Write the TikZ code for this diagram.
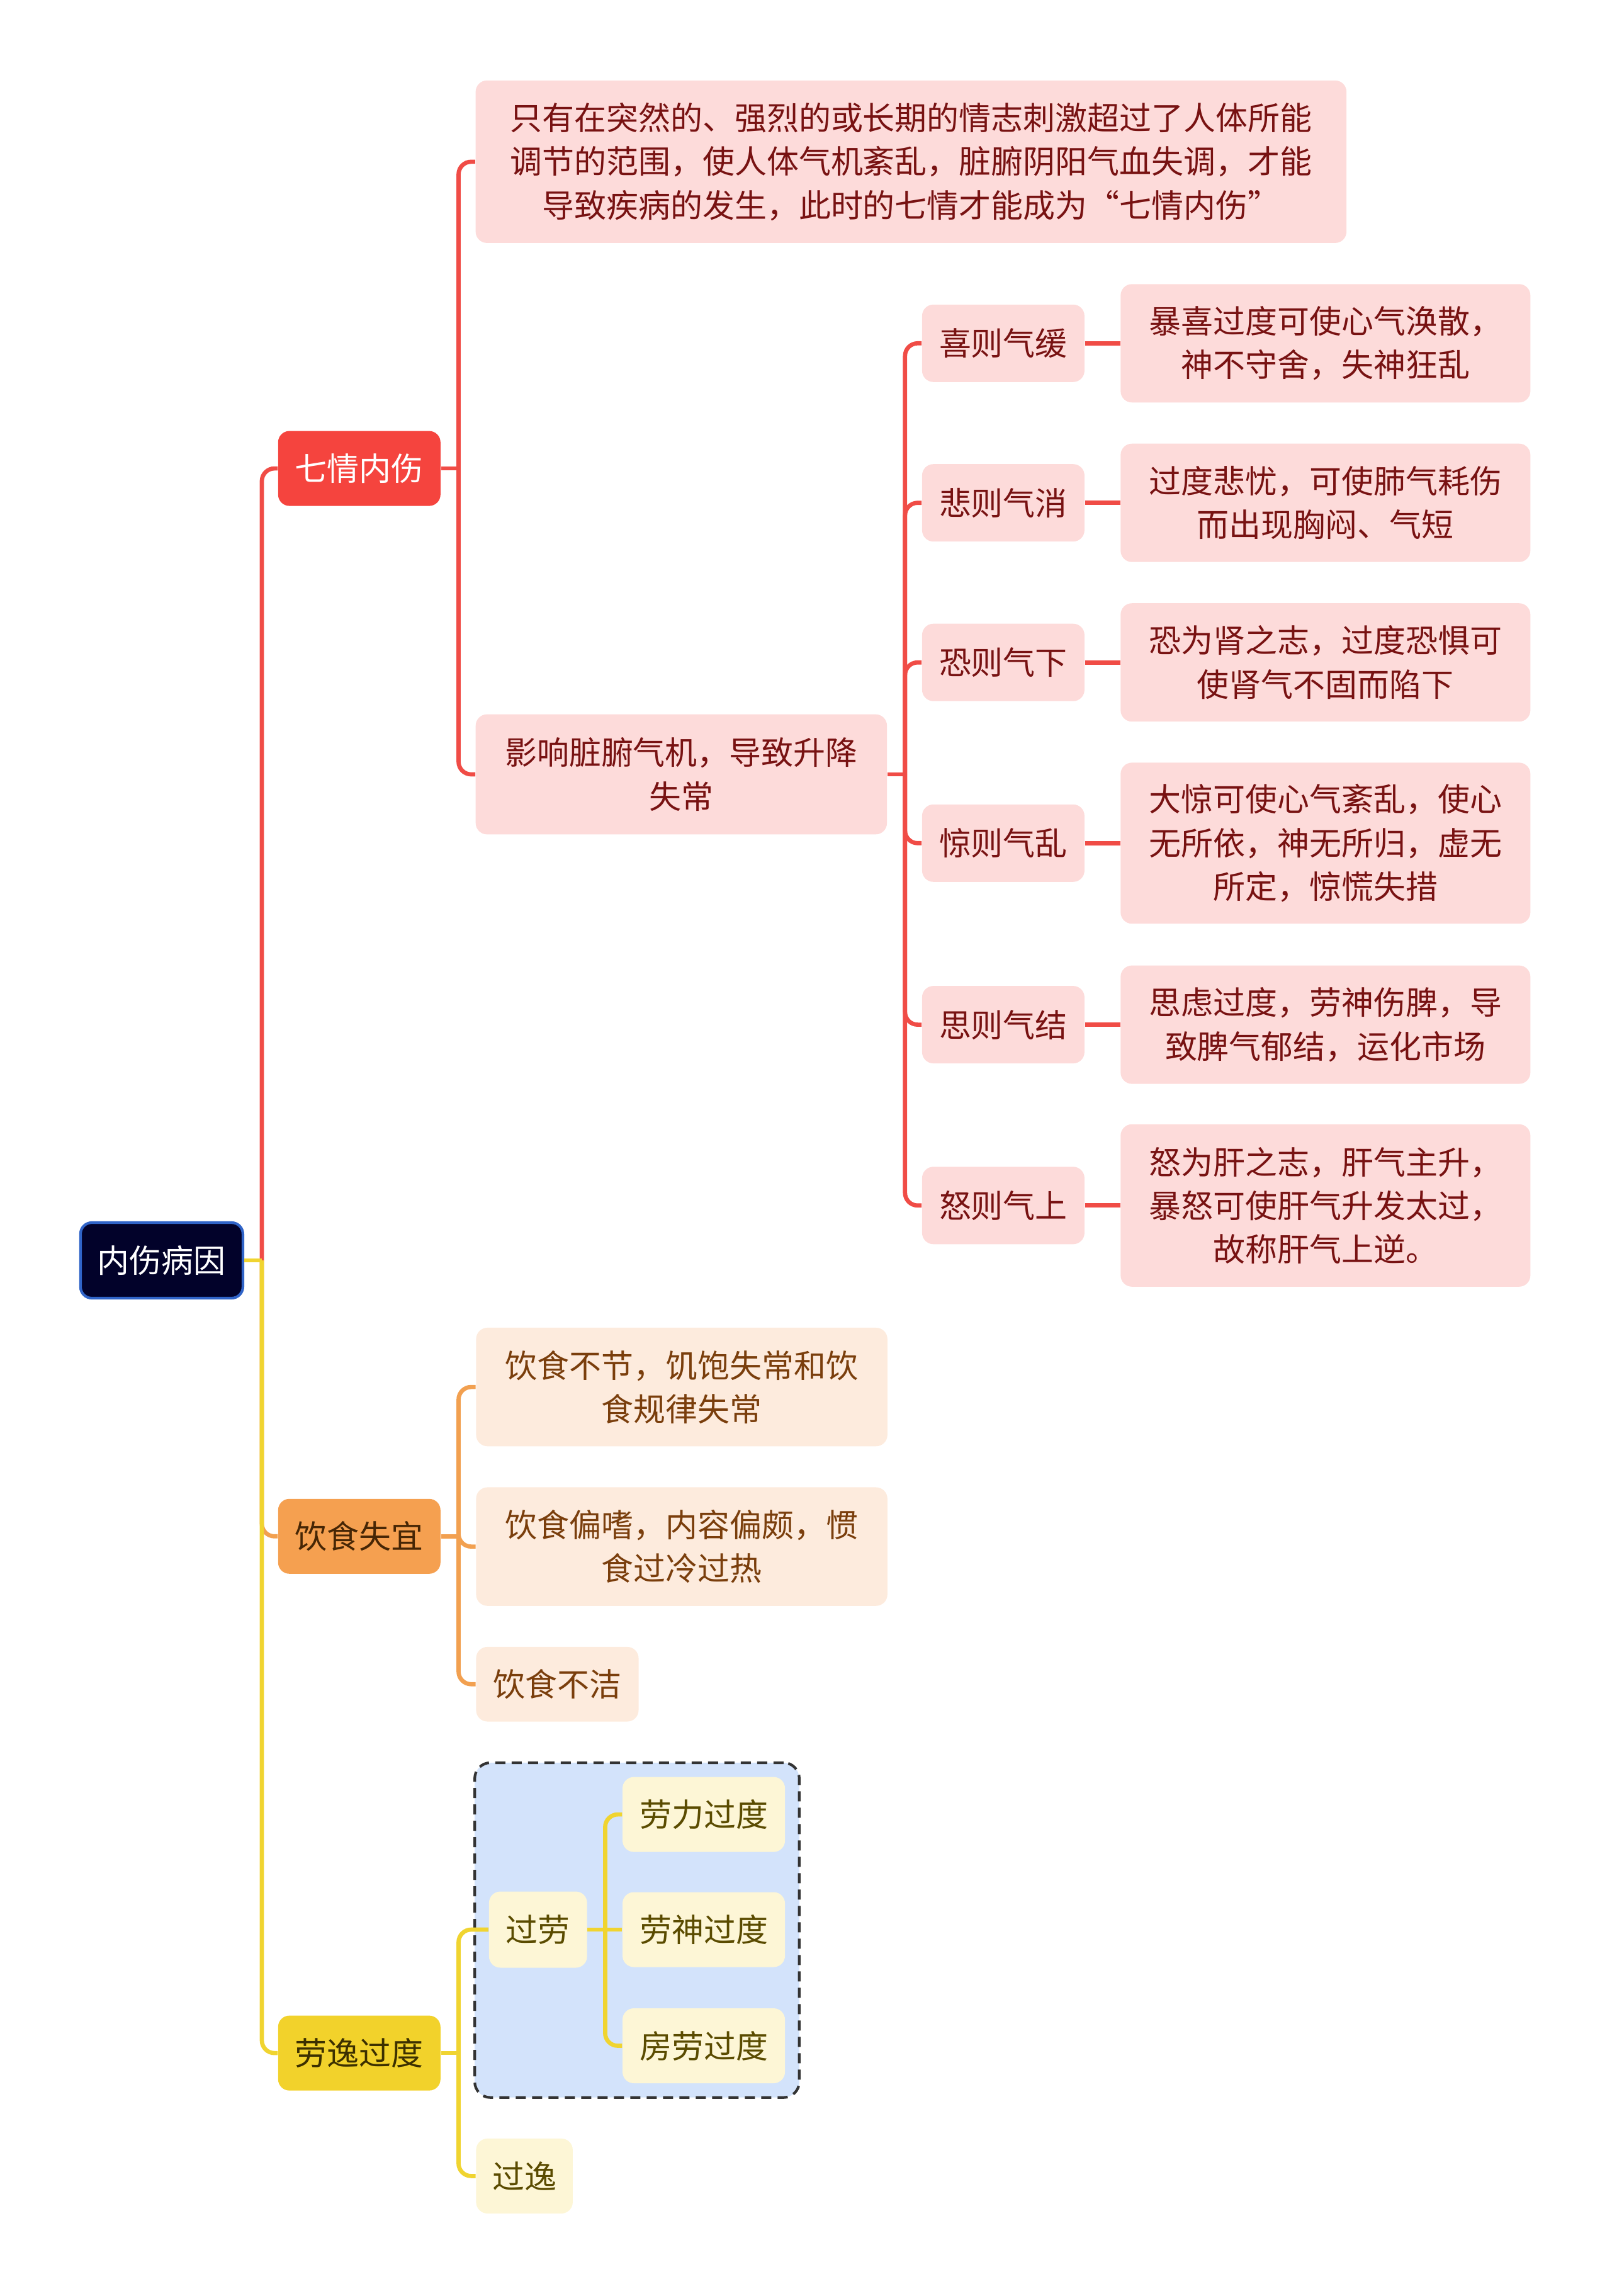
\documentclass[tikz,border=0pt]{standalone}
\usepackage{fontspec}
\newfontfamily\cjk{Noto Sans CJK SC}
\usepackage{tikz}
\usetikzlibrary{positioning,fit,backgrounds}
\definecolor{RootNavy}{RGB}{2,2,42}
\definecolor{RootEdge}{RGB}{48,100,200}
\definecolor{EmoRed}{RGB}{245,68,62}
\definecolor{EmoLine}{RGB}{240,76,70}
\definecolor{SoftPink}{RGB}{253,219,218}
\definecolor{PinkText}{RGB}{120,18,18}
\definecolor{DietOrange}{RGB}{245,160,80}
\definecolor{DietLine}{RGB}{242,160,80}
\definecolor{SoftPeach}{RGB}{253,235,221}
\definecolor{PeachText}{RGB}{122,62,12}
\definecolor{DietText}{RGB}{70,38,5}
\definecolor{WorkYellow}{RGB}{242,210,43}
\definecolor{WorkLine}{RGB}{240,212,48}
\definecolor{SoftCream}{RGB}{253,246,214}
\definecolor{CreamText}{RGB}{90,75,0}
\definecolor{WorkText}{RGB}{60,48,0}
\definecolor{GroupBlue}{RGB}{211,227,251}
\definecolor{GroupEdge}{RGB}{51,51,51}

\begin{document}
\begin{tikzpicture}[every node/.style={font=\cjk\fontsize{14.5}{19.7}\selectfont,
        align=center, inner sep=0pt},
    mainbox/.style={draw=RootEdge, line width=1.2pt, fill=RootNavy, text=white,
        rounded corners=0.18cm, minimum width=2.58cm, minimum height=1.2cm},
    topic/.style={rounded corners=0.18cm, minimum width=2.58cm, minimum height=1.19cm},
    pinkbox/.style={fill=SoftPink, text=PinkText, rounded corners=0.18cm},
    emo/.style={pinkbox, minimum width=2.58cm, minimum height=1.23cm},
    detail/.style={pinkbox, minimum width=6.51cm, minimum height=1.88cm},
    peachbox/.style={fill=SoftPeach, text=PeachText, rounded corners=0.18cm,
        anchor=west},
    creambox/.style={fill=SoftCream, text=CreamText, rounded corners=0.18cm,
        minimum height=1.19cm, anchor=west},
    dashgroup/.style={draw=GroupEdge, fill=GroupBlue, line width=1.2pt,
        dash pattern=on 0.16cm off 0.1cm, rounded corners=0.25cm, inner sep=0.22cm},
    redlink/.style={draw=EmoLine, line width=1.9pt, rounded corners=0.2cm},
    orangelink/.style={draw=DietLine, line width=1.9pt, rounded corners=0.2cm},
    yellowlink/.style={draw=WorkLine, line width=1.9pt, rounded corners=0.2cm}]
\useasboundingbox (0,0) rectangle (25.6,-36.47);

\node[mainbox] (root) at (2.569,-20.02) {内伤病因};

\node[topic, fill=EmoRed, text=white] (qq) at (5.708,-7.441) {七情内伤};
\node[topic, fill=DietOrange, text=DietText] (ys) at (5.708,-24.403) {饮食失宜};
\node[topic, fill=WorkYellow, text=WorkText] (ly) at (5.708,-32.611) {劳逸过度};

% 七情内伤
\node[pinkbox, minimum width=13.835cm, minimum height=2.581cm] (qa) at (14.474,-2.569)
    {只有在突然的、强烈的或长期的情志刺激超过了人体所能\\
     调节的范围，使人体气机紊乱，脏腑阴阳气血失调，才能\\
     导致疾病的发生，此时的七情才能成为“七情内伤”};
\node[pinkbox, minimum width=6.534cm, minimum height=1.907cm] (qb) at (10.824,-12.3)
    {影响脏腑气机，导致升降\\失常};

\node[emo] (xi) at (15.939,-5.453) {喜则气缓};
\node[detail, right=0.56cm of xi] (xid) {暴喜过度可使心气涣散，\\神不守舍，失神狂乱};
\node[emo] (bei) at (15.939,-7.987) {悲则气消};
\node[detail, right=0.56cm of bei] (beid) {过度悲忧，可使肺气耗伤\\而出现胸闷、气短};
\node[emo] (kong) at (15.939,-10.522) {恐则气下};
\node[detail, right=0.56cm of kong] (kongd) {恐为肾之志，过度恐惧可\\使肾气不固而陷下};
\node[emo] (jing) at (15.939,-13.393) {惊则气乱};
\node[detail, minimum height=2.558cm, right=0.56cm of jing] (jingd)
    {大惊可使心气紊乱，使心\\无所依，神无所归，虚无\\所定，惊慌失措};
\node[emo] (si) at (15.939,-16.276) {思则气结};
\node[detail, right=0.56cm of si] (sid) {思虑过度，劳神伤脾，导\\致脾气郁结，运化市场};
\node[emo] (nu) at (15.939,-19.148) {怒则气上};
\node[detail, minimum height=2.58cm, right=0.56cm of nu] (nud)
    {怒为肝之志，肝气主升，\\暴怒可使肝气升发太过，\\故称肝气上逆。};

% 饮食失宜
\node[peachbox, minimum width=6.534cm, minimum height=1.883cm] (ys1) at (7.557,-22.031)
    {饮食不节，饥饱失常和饮\\食规律失常};
\node[peachbox, minimum width=6.534cm, minimum height=1.883cm] (ys2) at (7.557,-24.566)
    {饮食偏嗜，内容偏颇，惯\\食过冷过热};
\node[peachbox, minimum width=2.581cm, minimum height=1.186cm] (ys3) at (7.557,-26.752)
    {饮食不洁};

% 劳逸过度
\node[creambox, minimum width=1.558cm, minimum height=1.21cm] (gl) at (7.762,-30.65) {过劳};
\node[creambox, minimum width=2.581cm] (gl1) at (9.883,-28.821) {劳力过度};
\node[creambox, minimum width=2.581cm] (gl2) at (9.883,-30.65) {劳神过度};
\node[creambox, minimum width=2.581cm] (gl3) at (9.883,-32.495) {房劳过度};
\node[creambox, minimum width=1.535cm] (gy) at (7.557,-34.564) {过逸};
\begin{scope}[on background layer]
\node[dashgroup, fit=(gl)(gl1)(gl2)(gl3)] (glbox) {};
\end{scope}

% stubs are straight, branches bend at the child end
\draw[redlink] ([xshift=0.28cm]root.east) |- (qq.west);
\draw[orangelink] ([xshift=0.28cm]root.east) |- (ys.west);
\draw[yellowlink] ([xshift=0.28cm]root.east) |- (ly.west);
\draw[yellowlink] (root.east) -- ++(0.28,0);

\draw[redlink] (qq.east) -- ++(0.28,0);
\draw[redlink] ([xshift=0.28cm]qq.east) |- (qa.west);
\draw[redlink] ([xshift=0.28cm]qq.east) |- (qb.west);
\draw[redlink] (qb.east) -- ++(0.28,0);
\draw[redlink] ([xshift=0.28cm]qb.east) |- (xi.west);
\draw[redlink] ([xshift=0.28cm]qb.east) |- (bei.west);
\draw[redlink] ([xshift=0.28cm]qb.east) |- (kong.west);
\draw[redlink] ([xshift=0.28cm]qb.east) |- (jing.west);
\draw[redlink] ([xshift=0.28cm]qb.east) |- (si.west);
\draw[redlink] ([xshift=0.28cm]qb.east) |- (nu.west);
\draw[redlink] (xi) -- (xid);
\draw[redlink] (bei) -- (beid);
\draw[redlink] (kong) -- (kongd);
\draw[redlink] (jing) -- (jingd);
\draw[redlink] (si) -- (sid);
\draw[redlink] (nu) -- (nud);

\draw[orangelink] (ys.east) -- ++(0.28,0);
\draw[orangelink] ([xshift=0.28cm]ys.east) |- (ys1.west);
\draw[orangelink] ([xshift=0.28cm]ys.east) |- (ys2.west);
\draw[orangelink] ([xshift=0.28cm]ys.east) |- (ys3.west);

\draw[yellowlink] (ly.east) -- ++(0.28,0);
\draw[yellowlink] ([xshift=0.28cm]ly.east) |- (gl.west);
\draw[yellowlink] ([xshift=0.28cm]ly.east) |- (gy.west);
\draw[yellowlink] (gl.east) -- ++(0.28,0);
\draw[yellowlink] ([xshift=0.28cm]gl.east) |- (gl1.west);
\draw[yellowlink] (gl) -- (gl2);
\draw[yellowlink] ([xshift=0.28cm]gl.east) |- (gl3.west);
\end{tikzpicture}
\end{document}
